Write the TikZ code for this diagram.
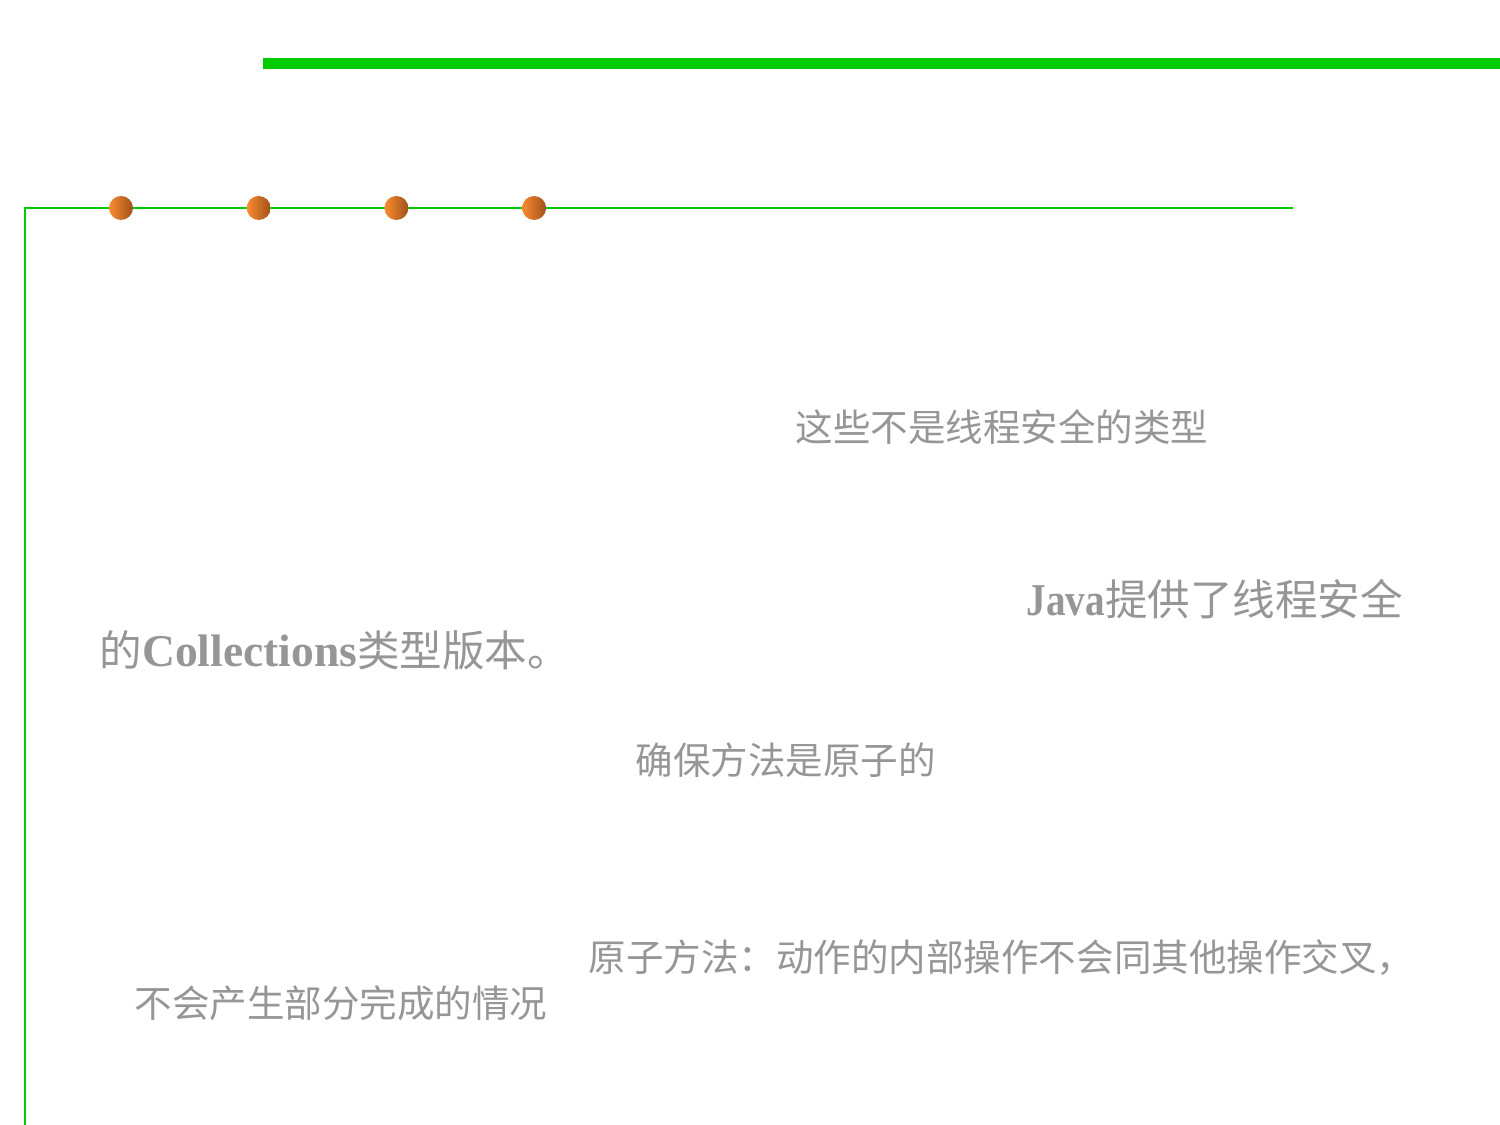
\documentclass[tikz,border=0pt]{standalone}
\usepackage{fontspec}
\setmainfont{Noto Sans CJK SC}
\newfontfamily\latinserif[Scale=1.07]{Liberation Serif}
\newfontfamily\latinnarrow[Scale=1.07,FakeStretch=0.86]{Liberation Serif}
\usepackage{tikz}
\usetikzlibrary{shapes,backgrounds}
\definecolor{bargreen}{RGB}{0,204,0}
\definecolor{textgray}{RGB}{150,150,150}
\definecolor{dotlight}{RGB}{250,140,50}
\definecolor{dotdark}{RGB}{160,80,25}
\newcommand{\smalltext}[0]{\fontsize{10.67}{12}\selectfont}
\newcommand{\bigtext}[0]{\fontsize{12.1}{14}\selectfont}

\begin{document}
\begin{tikzpicture}[x=0.01cm,y=-0.01cm]

%%%%%%%%%%%%%%%%%%%%%%%%%%%%%%%%%%%%%%%%%%%%%%%%%%%%%%%%%%%%%%%%%%%%%%%%%%%%%%%%%%%%%%%%%%%%%%%%%%%
%																								  %
%	Slide frame: green bars, orange bullets and the grey text lines							  %
%																								  %
%%%%%%%%%%%%%%%%%%%%%%%%%%%%%%%%%%%%%%%%%%%%%%%%%%%%%%%%%%%%%%%%%%%%%%%%%%%%%%%%%%%%%%%%%%%%%%%%%%%

	\useasboundingbox (0,0) rectangle (1500,1125);

	%Define the frame
	%thin line at height \f, left edge at \l, right end at \e
	%bullets start at \a with spacing \d
	\pgfmathsetmacro{\f}{208}
	\pgfmathsetmacro{\l}{25}
	\pgfmathsetmacro{\e}{1293}
	\pgfmathsetmacro{\a}{121}
	\pgfmathsetmacro{\d}{137.7}

	%Thick bar on top
	\draw[bargreen,line width=11.5*0.01cm] (263,63.5) -- (1500,63.5);

	%Thin frame line
	\coordinate (corner_bl) at (\l,1125);
	\coordinate (corner_tl) at (\l,\f);
	\coordinate (corner_tr) at (\e,\f);
	\draw[bargreen,line width=2*0.01cm] (corner_bl) -- (corner_tl) -- (corner_tr);

	%Bullets on the frame line
	\draw node (dot1) [circle, inner sep=0pt, minimum size=24*0.01cm, left color=dotlight, right color=dotdark] at (\a,\f) {};
	\draw node (dot2) [circle, inner sep=0pt, minimum size=24*0.01cm, left color=dotlight, right color=dotdark] at (\a+\d,\f) {};
	\draw node (dot3) [circle, inner sep=0pt, minimum size=24*0.01cm, left color=dotlight, right color=dotdark] at (\a+2*\d,\f) {};
	\draw node (dot4) [circle, inner sep=0pt, minimum size=24*0.01cm, left color=dotlight, right color=dotdark] at (\a+3*\d,\f) {};

	%Text lines
	\draw node (txtunsafe) [anchor=west, inner sep=0pt, textgray] at (795,427) {\smalltext 这些不是线程安全的类型};

	\draw node (txtjava) [anchor=west, inner sep=0pt, textgray] at (1026,599) {\bigtext {\latinnarrow\bfseries Java}提供了线程安全};
	\draw node (txtcoll) [anchor=west, inner sep=0pt, textgray] at (99,650) {\bigtext 的{\latinserif\bfseries Collections}类型版本。};

	\draw node (txtatomic) [anchor=west, inner sep=0pt, textgray] at (635,760) {\smalltext 确保方法是原子的};

	\draw node (txtdefa) [anchor=west, inner sep=0pt, textgray] at (588,958) {\smalltext 原子方法：动作的内部操作不会同其他操作交叉，};
	\draw node (txtdefb) [anchor=west, inner sep=0pt, textgray] at (134,1003) {\smalltext 不会产生部分完成的情况};

\end{tikzpicture}
\end{document}
